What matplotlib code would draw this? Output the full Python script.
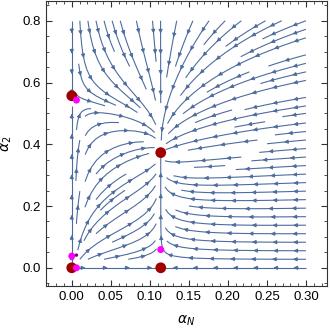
import numpy as np
import matplotlib
matplotlib.use('Agg')
import matplotlib.pyplot as plt
from matplotlib.ticker import MultipleLocator
from matplotlib.patches import FancyArrowPatch

# fixed points (dark red)
fp_x = [0.0, 0.0, 0.114, 0.114]
fp_y = [0.0, 0.557, 0.373, 0.0]
# magenta markers
mag_x = [0.006, 0.0, 0.006, 0.114]
mag_y = [0.543, 0.038, 0.0, 0.059]
# small purple marker
pur_x = [0.006]
pur_y = [0.041]

# flow parameters
xN_star = 0.114
y_left = 0.557
y_node = 0.373
A = 12.0
B = 1.0
C = 0.02

x = np.linspace(0, 0.3, 300)
y = np.linspace(0, 0.8, 300)
X, Y = np.meshgrid(x, y)
y0 = y_left - (y_left - y_node) * X / xN_star
U = A * X**2 / (X + C) * (xN_star - X)
V = B * Y * (y0 - Y)

LC = '#4d6c9e'
plt.rcParams['font.family'] = ['Liberation Sans', 'DejaVu Sans']
fig = plt.figure(figsize=(3.32, 3.29), dpi=100)
ax = fig.add_axes([46/332, 43/329, 281/332, 285/329])
ax.set_xlim(-0.033, 0.327)
ax.set_ylim(-0.059, 0.864)
res = ax.streamplot(x, y, U, V, density=1.0, color=LC, linewidth=0.8,
                    arrowsize=0.01)
for p in list(ax.patches):
    p.remove()

# arrows along each streamline
trans = ax.transData
spacing = 20.0
for seg in res.lines.get_segments():
    if len(seg) < 2:
        continue
    d = trans.transform(seg)
    dl = np.hypot(*np.diff(d, axis=0).T)
    s = np.concatenate([[0], np.cumsum(dl)])
    L = s[-1]
    if L < 8:
        continue
    n = max(1, int(L // spacing))
    pos = (np.arange(n) + 0.5) * L / n
    for sp in pos:
        i = np.searchsorted(s, sp)
        i = min(max(i, 1), len(s) - 1)
        p0 = d[i-1]; p1 = d[i]
        if np.hypot(*(p1 - p0)) == 0:
            continue
        t = (sp - s[i-1]) / max(s[i] - s[i-1], 1e-9)
        pm = p0 + t * (p1 - p0)
        dirv = (p1 - p0) / np.hypot(*(p1 - p0))
        a = pm - dirv * 2.5
        b = pm + dirv * 2.5
        ia = trans.inverted().transform(a)
        ib = trans.inverted().transform(b)
        ax.add_patch(FancyArrowPatch(ia, ib, arrowstyle='-|>', mutation_scale=6,
                                     color=LC, lw=0.6, shrinkA=0, shrinkB=0, zorder=3))

ax.scatter(fp_x, fp_y, s=60, color='#a00000', zorder=5, edgecolors='none')
ax.scatter(mag_x, mag_y, s=25, color='#ff00ff', zorder=5, edgecolors='none')
ax.scatter(pur_x, pur_y, s=6, color='#800080', zorder=6, edgecolors='none')

ax.xaxis.set_major_locator(MultipleLocator(0.05))
ax.xaxis.set_minor_locator(MultipleLocator(0.01))
ax.yaxis.set_major_locator(MultipleLocator(0.2))
ax.yaxis.set_minor_locator(MultipleLocator(0.05))
ax.xaxis.set_major_formatter(plt.FuncFormatter(lambda v, p: f"{v:.2f}"))
ax.yaxis.set_major_formatter(plt.FuncFormatter(lambda v, p: f"{v:.1f}"))
ax.tick_params(which='both', direction='in', top=True, right=True, labelsize=9.5, colors='#333333', labelcolor='black')
ax.tick_params(which='major', length=4)
ax.tick_params(which='minor', length=2)
for s_ in ax.spines.values():
    s_.set_color('#333333')
ax.set_xlabel(r'$\alpha_N$', fontsize=10, labelpad=8)
ax.set_ylabel(r'$\alpha_2$', fontsize=10, labelpad=6)
fig.savefig('out.png', dpi=100)
